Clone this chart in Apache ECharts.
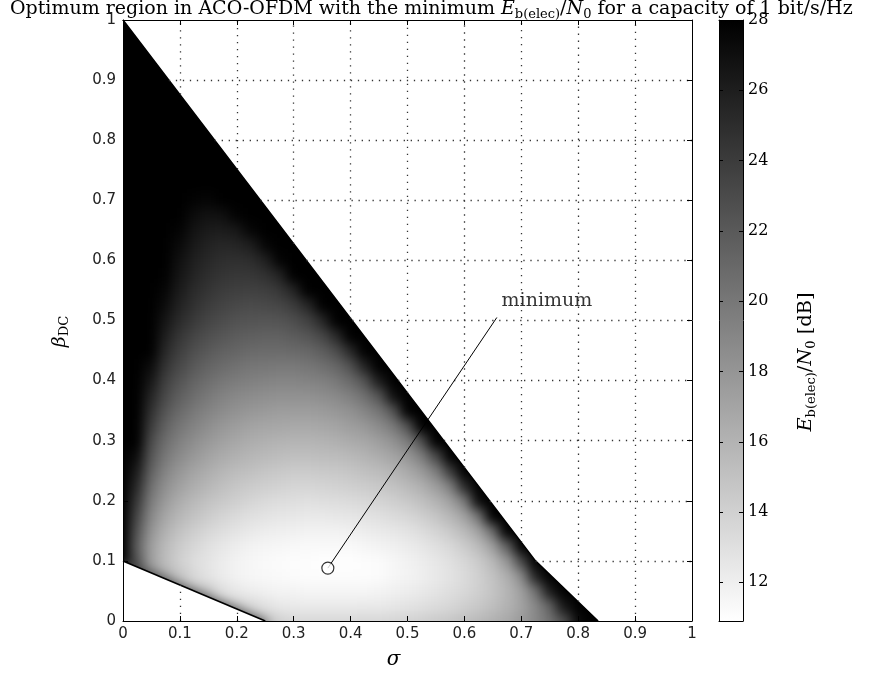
<!DOCTYPE html>
<html>
<head>
<meta charset="utf-8">
<script src="https://cdn.jsdelivr.net/npm/echarts@6/dist/echarts.min.js"></script>
<style>
  html, body { margin: 0; padding: 0; background: #fff; }
  #wrap { position: relative; width: 877px; height: 675px; }
  /* the shaded surface sits under the plot frame and is clipped to the axes box */
  #surfaceClip { position: absolute; left: 123px; top: 20px; width: 569px; height: 601px; overflow: hidden; }
  #surface { position: absolute; left: -30px; top: -30px; width: 629px; height: 661px; filter: blur(6px); }
  #chart { position: absolute; left: 0; top: 0; width: 877px; height: 675px; }
</style>
</head>
<body>
<div id="wrap">
  <div id="surfaceClip"><div id="surface"></div></div>
  <div id="chart"></div>
</div>
<script>
// Grid of sigma (columns) and beta_DC (rows) where Eb(elec)/N0 was evaluated
const sigmaGrid = [0, 0.025, 0.05, 0.075, 0.1, 0.125, 0.15, 0.175, 0.2, 0.225, 0.25, 0.275, 0.3, 0.325, 0.35,
  0.375, 0.4, 0.425, 0.45, 0.475, 0.5, 0.525, 0.55, 0.575, 0.6, 0.625, 0.65, 0.675, 0.7, 0.725, 0.75, 0.775,
  0.8, 0.825, 0.85];
const betaGrid = [0, 0.025, 0.05, 0.075, 0.1, 0.125, 0.15, 0.175, 0.2, 0.225, 0.25, 0.275, 0.3, 0.325, 0.35,
  0.375, 0.4, 0.425, 0.45, 0.475, 0.5, 0.525, 0.55, 0.575, 0.6, 0.625, 0.65, 0.675, 0.7, 0.725, 0.75, 0.775,
  0.8, 0.825, 0.85, 0.875, 0.9, 0.925, 0.95, 0.975, 1];

// Eb(elec)/N0 in dB, one row per beta_DC value; null = no feasible point in that cell
const ebn0dB = [
  [null, null, null, null, null, null, null, null, null, 15.5, 15.4, 14.1, 13.6, 13.5, 13.5, 13.5, 13.5, 13.6, 13.6, 13.7, 13.9, 14.1, 14.4, 14.7, 15.1, 15.6, 16.1, 16.7, 17.6, 18.8, 20.3, 22.6, 27.3, 28, 28],
  [null, null, null, null, null, null, 15.3, 14.9, 14.5, 13.7, 13.0, 12.5, 12.4, 12.3, 12.3, 12.3, 12.3, 12.4, 12.4, 12.6, 12.8, 13.0, 13.3, 13.6, 14.1, 14.6, 15.2, 16.0, 17.1, 18.8, 21.2, 26.4, 28, 28],
  [null, null, null, null, 15.9, 15.2, 14.7, 13.2, 12.5, 12.1, 11.9, 11.7, 11.7, 11.6, 11.6, 11.6, 11.6, 11.6, 11.7, 11.9, 12.1, 12.4, 12.7, 13.1, 13.5, 14.1, 14.8, 15.8, 17.3, 20.2, 26.0, 28, 28],
  [null, 22.1, 18.3, 16.6, 14.9, 13.6, 12.8, 12.2, 11.8, 11.5, 11.4, 11.3, 11.2, 11.1, 11.1, 11.1, 11.1, 11.1, 11.2, 11.5, 11.7, 12.0, 12.4, 12.8, 13.3, 14.0, 14.9, 16.2, 18.7, 25.5, 28, 28],
  [28, 22.4, 17.5, 15.4, 14.1, 13.2, 12.7, 12.2, 11.8, 11.5, 11.3, 11.2, 11.1, 11.1, 11.0, 11.0, 11.0, 11.1, 11.2, 11.5, 11.8, 12.1, 12.5, 13.0, 13.6, 14.4, 15.6, 17.8, 23.0, 28, 28],
  [28, 21.6, 17.4, 15.5, 14.4, 13.6, 13.0, 12.5, 12.1, 11.8, 11.6, 11.5, 11.4, 11.3, 11.3, 11.3, 11.3, 11.5, 11.7, 11.9, 12.2, 12.5, 13.0, 13.5, 14.3, 15.4, 17.3, 21.4, 28, 28],
  [28, 22.3, 18.1, 16.1, 15.0, 14.2, 13.6, 13.1, 12.7, 12.4, 12.1, 12.0, 11.9, 11.8, 11.8, 11.8, 11.9, 12.1, 12.3, 12.5, 12.8, 13.2, 13.8, 14.5, 15.5, 17.1, 20.5, 28, 28],
  [28, 23.2, 18.9, 16.9, 15.7, 14.9, 14.3, 13.8, 13.4, 13.0, 12.8, 12.6, 12.5, 12.4, 12.4, 12.5, 12.6, 12.8, 13.0, 13.3, 13.6, 14.1, 14.8, 15.7, 17.1, 20.1, 28, 28],
  [28, 24.2, 19.7, 17.7, 16.4, 15.6, 15.0, 14.5, 14.1, 13.7, 13.4, 13.2, 13.1, 13.0, 13.1, 13.2, 13.3, 13.5, 13.8, 14.1, 14.5, 15.1, 15.9, 17.2, 19.7, 27.1, 28],
  [28, 25.2, 20.5, 18.4, 17.2, 16.3, 15.7, 15.2, 14.7, 14.4, 14.1, 13.9, 13.7, 13.7, 13.8, 13.9, 14.1, 14.3, 14.6, 15.0, 15.5, 16.2, 17.4, 19.5, 25.1, 28],
  [28, 26.1, 21.4, 19.2, 17.9, 17.0, 16.4, 15.8, 15.4, 15.1, 14.8, 14.6, 14.4, 14.4, 14.5, 14.6, 14.8, 15.1, 15.4, 15.9, 16.6, 17.6, 19.5, 23.9, 28],
  [28, 27.1, 22.2, 20.0, 18.7, 17.8, 17.1, 16.5, 16.1, 15.8, 15.5, 15.3, 15.2, 15.2, 15.3, 15.4, 15.6, 15.9, 16.4, 17.0, 17.9, 19.5, 23.0, 28, 28],
  [28, 28, 23.0, 20.7, 19.4, 18.5, 17.8, 17.2, 16.8, 16.4, 16.2, 16.0, 15.9, 15.9, 16.0, 16.2, 16.5, 16.8, 17.4, 18.2, 19.6, 22.5, 28, 28],
  [28, 28, 23.9, 21.5, 20.1, 19.2, 18.5, 17.9, 17.5, 17.1, 16.9, 16.8, 16.7, 16.7, 16.8, 17.0, 17.4, 17.8, 18.6, 19.8, 22.3, 28, 28],
  [28, 28, 24.7, 22.3, 20.9, 19.9, 19.2, 18.6, 18.2, 17.9, 17.7, 17.5, 17.5, 17.5, 17.6, 17.9, 18.3, 19.0, 20.1, 22.2, 27.9, 28],
  [28, 28, 25.5, 23.1, 21.6, 20.6, 19.9, 19.3, 18.9, 18.6, 18.4, 18.3, 18.3, 18.3, 18.5, 18.8, 19.4, 20.4, 22.2, 26.9, 28, 28],
  [28, 28, 26.4, 23.8, 22.4, 21.3, 20.6, 20.0, 19.7, 19.4, 19.2, 19.1, 19.1, 19.2, 19.4, 19.9, 20.8, 22.3, 26.0, 28, 28],
  [28, 28, 27.2, 24.6, 23.1, 22.0, 21.3, 20.8, 20.4, 20.1, 20.0, 19.9, 19.9, 20.1, 20.5, 21.1, 22.5, 25.5, 28, 28],
  [28, 28, 28, 25.3, 23.8, 22.7, 22.0, 21.5, 21.2, 20.9, 20.8, 20.8, 20.9, 21.1, 21.7, 22.8, 25.2, 28, 28],
  [28, 28, 28, 26.0, 24.4, 23.4, 22.7, 22.2, 21.8, 21.6, 21.5, 21.5, 21.8, 22.2, 23.2, 25.1, 28, 28],
  [28, 28, 28, 26.6, 25.1, 24.1, 23.4, 22.9, 22.5, 22.4, 22.3, 22.4, 22.8, 23.6, 25.3, 28, 28],
  [28, 28, 28, 27.2, 25.7, 24.7, 24.0, 23.5, 23.2, 23.0, 23.1, 23.3, 24.0, 25.4, 28, 28, 28],
  [28, 28, 28, 27.6, 26.2, 25.1, 24.5, 24.0, 23.8, 23.7, 23.8, 24.3, 25.5, 28, 28, 28],
  [28, 28, 28, 27.9, 26.6, 25.6, 24.9, 24.5, 24.3, 24.3, 24.7, 25.6, 28, 28, 28],
  [28, 28, 28, 28, 26.9, 25.9, 25.3, 24.9, 24.8, 25.0, 25.8, 27.7, 28, 28],
  [28, 28, 28, 28, 27.3, 26.3, 25.7, 25.4, 25.5, 26.0, 27.5, 28, 28, 28],
  [28, 28, 28, 28, 27.7, 26.7, 26.2, 26.1, 26.4, 27.6, 28, 28, 28],
  [28, 28, 28, 28, 28, 27.2, 26.8, 26.9, 27.8, 28, 28, 28],
  [28, 28, 28, 28, 28, 27.8, 27.6, 28, 28, 28, 28],
  [28, 28, 28, 28, 28, 28, 28, 28, 28, 28],
  [28, 28, 28, 28, 28, 28, 28, 28, 28, 28],
  [28, 28, 28, 28, 28, 28, 28, 28, 28],
  [28, 28, 28, 28, 28, 28, 28, 28],
  [28, 28, 28, 28, 28, 28, 28],
  [28, 28, 28, 28, 28, 28],
  [28, 28, 28, 28, 28],
  [28, 28, 28, 28, 28],
  [28, 28, 28, 28],
  [28, 28, 28],
  [28, 28],
  [28]
];

// Edges of the feasible region
const upperEdgeSigma = [0, 0.725, 0.835];
const upperEdgeBeta = [1, 0.1, 0];
const lowerEdgeSigma = [0, 0.25];
const lowerEdgeBeta = [0.1, 0];

// Location of the minimum and its callout
const minimumPoint = [0.36, 0.088];
const calloutEnd = [0.657, 0.505];
const calloutText = [0.745, 0.533];

// Axis ticks and colour scale
const axisTicks = [0, 0.1, 0.2, 0.3, 0.4, 0.5, 0.6, 0.7, 0.8, 0.9, 1];
const colorTicks = [12, 14, 16, 18, 20, 22, 24, 26, 28];
const colorMin = 10.9;
const colorMax = 28;

const sans = 'DejaVu Sans';
const serif = 'DejaVu Serif';

// ---------- helpers ----------
const halfS = (sigmaGrid[1] - sigmaGrid[0]) / 2;
const halfB = (betaGrid[1] - betaGrid[0]) / 2;

const cells = [];
ebn0dB.forEach(function (row, j) {
  row.forEach(function (v, i) {
    if (v !== null) cells.push([sigmaGrid[i], betaGrid[j], v]);
  });
});

function pairs(xs, ys) { return xs.map(function (x, i) { return [x, ys[i]]; }); }

function interp(xs, ys, x) {
  for (let i = 0; i < xs.length - 1; i++) {
    const a = Math.min(xs[i], xs[i + 1]), b = Math.max(xs[i], xs[i + 1]);
    if (x >= a && x <= b) return ys[i] + (ys[i + 1] - ys[i]) * (x - xs[i]) / (xs[i + 1] - xs[i]);
  }
  return null;
}

const upperOverlay = pairs(upperEdgeSigma, upperEdgeBeta).concat([[1, 0]]);

// ---------- shaded surface (smooth, drawn underneath) ----------
const surfaceEl = document.getElementById('surface');
const plotW = 569, plotH = 601, pad = 30;
const sMin = -pad / plotW, sMax = 1 + pad / plotW;
const bMin = -pad / plotH, bMax = 1 + pad / plotH;

function renderCell(params, api) {
  const s = api.value(0), b = api.value(1);
  const left = s === sigmaGrid[0] ? sMin : s - halfS;
  const bottom = b === betaGrid[0] ? bMin : b - halfB;
  const a = api.coord([left, b + halfB]);
  const c = api.coord([s + halfS, bottom]);
  const x0 = Math.floor(a[0]), y0 = Math.floor(a[1]);
  return {
    type: 'rect',
    shape: { x: x0, y: y0, width: Math.ceil(c[0]) - x0, height: Math.ceil(c[1]) - y0 },
    style: { fill: api.visual('color') }
  };
}

const surface = echarts.init(surfaceEl);
surface.setOption({
  animation: false,
  grid: { left: 0, right: 0, top: 0, bottom: 0 },
  xAxis: { type: 'value', min: sMin, max: sMax, show: false },
  yAxis: { type: 'value', min: bMin, max: bMax, show: false },
  visualMap: {
    show: false, type: 'continuous', min: colorMin, max: colorMax, dimension: 2, seriesIndex: 0,
    inRange: { color: ['#ffffff', '#000000'] }
  },
  series: [
    {
      type: 'custom',
      dimensions: ['sigma', 'beta', 'ebn0'],
      encode: { x: 0, y: 1 },
      renderItem: renderCell,
      data: cells,
      clip: false,
      silent: true,
      z: 1
    },
    {
      // steep rise beyond the upper edge
      type: 'line',
      data: upperOverlay,
      symbol: 'none',
      lineStyle: { opacity: 0 },
      areaStyle: { color: '#000000', opacity: 1, origin: 'end' },
      silent: true,
      z: 2
    },
    {
      // darker rim along the lower edge
      type: 'line',
      data: pairs(lowerEdgeSigma, lowerEdgeBeta),
      symbol: 'none',
      lineStyle: { opacity: 0 },
      areaStyle: { color: '#3a3a3a', opacity: 1, origin: 'start' },
      silent: true,
      z: 2
    }
  ]
});

// ---------- frame, labels and annotations ----------
const gridSegments = [];
axisTicks.forEach(function (t) {
  if (t <= 0 || t >= 1) return;
  let top = interp(upperEdgeSigma, upperEdgeBeta, t);
  if (top === null) top = 0;
  gridSegments.push({ coords: [[t, top], [t, 1]] });
  const low = interp(lowerEdgeSigma, lowerEdgeBeta, t);
  if (low !== null && low > 0) gridSegments.push({ coords: [[t, 0], [t, low]] });
  const left = interp(upperEdgeBeta, upperEdgeSigma, t);
  gridSegments.push({ coords: [[left, t], [1, t]] });
});

function renderColorbar(params, api) {
  const lo = api.coord([0, api.value(0)]);
  const hi = api.coord([1, api.value(1)]);
  return {
    type: 'rect',
    shape: { x: lo[0], y: hi[1], width: hi[0] - lo[0], height: lo[1] - hi[1] },
    style: {
      fill: new echarts.graphic.LinearGradient(0, 1, 0, 0, [
        { offset: 0, color: '#ffffff' }, { offset: 1, color: '#000000' }
      ])
    }
  };
}

function frameAxis(extra) {
  return Object.assign({
    type: 'value', min: 0, max: 1, interval: 0.1, z: 10,
    axisLine: { show: true, onZero: false, lineStyle: { color: '#000', width: 1 } },
    axisTick: { show: true, inside: true, length: 5, lineStyle: { color: '#000' } },
    axisLabel: { show: false },
    splitLine: { show: false }
  }, extra);
}

const labelStyle = { show: true, fontFamily: sans, fontSize: 15, color: '#222' };

function subRich(size, subSize, drop) {
  return {
    it: { fontFamily: serif, fontStyle: 'italic', fontSize: size, lineHeight: size + 4, color: '#000' },
    n: { fontFamily: serif, fontSize: size, lineHeight: size + 4, color: '#000' },
    sub: { fontFamily: serif, fontSize: subSize, lineHeight: subSize, padding: [drop, 0, 0, 0], verticalAlign: 'bottom', color: '#000' }
  };
}

const option = {
  animation: false,
  title: {
    text: '{n|Optimum region in ACO-OFDM with the minimum }{it|E}{sub|b(elec)}{n|/}{it|N}{sub|0}{n| for a capacity of 1 bit/s/Hz}',
    left: 10,
    top: -2,
    padding: 0,
    textStyle: { fontFamily: serif, fontSize: 19, fontWeight: 'normal', color: '#000', lineHeight: 22, rich: subRich(19, 13, 11) }
  },
  grid: [
    { left: 123, right: 185, top: 20, bottom: 54 },
    { left: 719, top: 20, width: 24, height: 601 }
  ],
  xAxis: [
    frameAxis({
      gridIndex: 0, position: 'bottom',
      axisLabel: Object.assign({ margin: 6 }, labelStyle),
      name: 'σ', nameLocation: 'middle', nameGap: 29,
      nameTextStyle: { fontFamily: serif, fontStyle: 'italic', fontSize: 20, color: '#000', padding: [0, 28, 0, 0] }
    }),
    frameAxis({ gridIndex: 0, position: 'top' }),
    frameAxis({ gridIndex: 1, position: 'bottom', interval: null, axisTick: { show: false } }),
    frameAxis({ gridIndex: 1, position: 'top', interval: null, axisTick: { show: false } })
  ],
  yAxis: [
    frameAxis({
      gridIndex: 0, position: 'left',
      axisLabel: Object.assign({ margin: 7 }, labelStyle),
      name: '{b|β}{s|DC}', nameLocation: 'middle', nameGap: 52, nameRotate: 90,
      nameTextStyle: {
        padding: [0, 22, 0, 0],
        rich: {
          b: { fontFamily: serif, fontStyle: 'italic', fontSize: 19, lineHeight: 22, color: '#000' },
          s: { fontFamily: serif, fontSize: 13, lineHeight: 13, padding: [11, 0, 0, 0], verticalAlign: 'bottom', color: '#000' }
        }
      }
    }),
    frameAxis({ gridIndex: 0, position: 'right' }),
    frameAxis({
      gridIndex: 1, position: 'left', min: colorMin, max: colorMax, interval: null,
      axisTick: { show: true, inside: true, length: 4, customValues: colorTicks, lineStyle: { color: '#000' } }
    }),
    frameAxis({
      gridIndex: 1, position: 'right', min: colorMin, max: colorMax, interval: null,
      axisTick: { show: true, inside: true, length: 4, customValues: colorTicks, lineStyle: { color: '#000' } },
      axisLabel: { show: true, customValues: colorTicks, margin: 5, fontFamily: serif, fontSize: 16, color: '#000' }
    })
  ],
  graphic: [{
    type: 'text',
    x: 806, y: 362,
    rotation: Math.PI / 2,
    style: {
      text: '{it|E}{sub|b(elec)}{n|/}{it|N}{sub|0}{n| [dB]}',
      rich: subRich(19.4, 13, 13),
      align: 'center',
      verticalAlign: 'middle'
    }
  }],
  series: [
    {
      type: 'line',
      xAxisIndex: 0, yAxisIndex: 0,
      data: upperOverlay,
      symbol: 'none',
      lineStyle: { opacity: 0 },
      areaStyle: { color: '#ffffff', opacity: 1, origin: 'end' },
      silent: true,
      z: 3
    },
    {
      type: 'line',
      xAxisIndex: 0, yAxisIndex: 0,
      data: pairs(upperEdgeSigma, upperEdgeBeta),
      symbol: 'none',
      lineStyle: { color: '#000', width: 1.5 },
      silent: true,
      z: 3
    },
    {
      type: 'line',
      xAxisIndex: 0, yAxisIndex: 0,
      data: pairs(lowerEdgeSigma, lowerEdgeBeta),
      symbol: 'none',
      lineStyle: { color: '#000', width: 1.6 },
      areaStyle: { color: '#ffffff', opacity: 1, origin: 'start' },
      silent: true,
      z: 3
    },
    {
      type: 'lines',
      coordinateSystem: 'cartesian2d',
      xAxisIndex: 0, yAxisIndex: 0,
      data: gridSegments,
      lineStyle: { color: '#333', width: 1.3, type: [1.3, 5.7], opacity: 1 },
      silent: true,
      z: 4
    },
    {
      type: 'line',
      xAxisIndex: 0, yAxisIndex: 0,
      data: [minimumPoint, calloutEnd],
      symbol: 'none',
      lineStyle: { color: '#000', width: 1 },
      silent: true,
      z: 6
    },
    {
      type: 'scatter',
      xAxisIndex: 0, yAxisIndex: 0,
      data: [minimumPoint],
      symbol: 'circle', symbolSize: 12,
      itemStyle: { color: '#ffffff', borderColor: '#000', borderWidth: 1.2 },
      silent: true,
      z: 7
    },
    {
      type: 'scatter',
      xAxisIndex: 0, yAxisIndex: 0,
      data: [calloutText],
      symbolSize: 0,
      label: { show: true, position: 'inside', formatter: 'minimum', fontFamily: serif, fontSize: 19, color: '#000' },
      silent: true,
      z: 7
    },
    {
      type: 'custom',
      xAxisIndex: 2, yAxisIndex: 2,
      encode: { y: [0, 1] },
      renderItem: renderColorbar,
      data: [[colorMin, colorMax]],
      clip: false,
      silent: true,
      z: 1
    }
  ]
};

const chart = echarts.init(document.getElementById('chart'));
chart.setOption(option);
</script>
</body>
</html>
